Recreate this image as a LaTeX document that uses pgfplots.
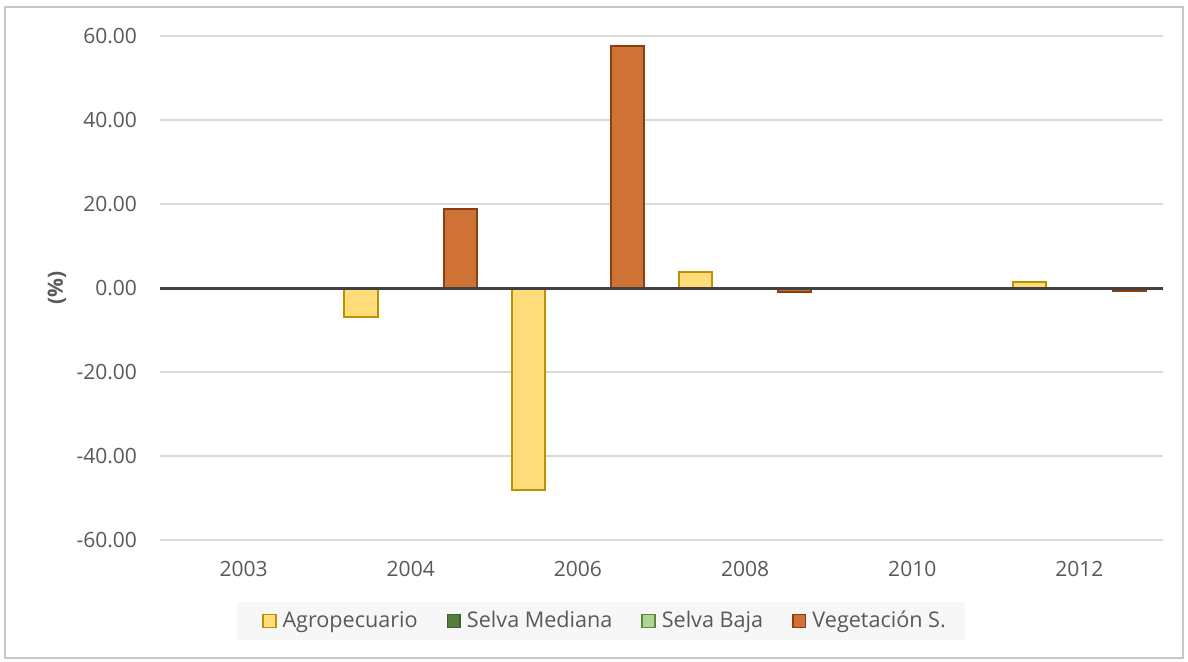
\documentclass[border=0pt]{standalone}
\usepackage{fontspec}
\setmainfont{Open Sans}
\usepackage{pgfplots}
\pgfplotsset{compat=1.18}

\definecolor{agrofill}{HTML}{FFDC7A}
\definecolor{agroedge}{HTML}{BF9000}
\definecolor{smfill}{HTML}{557D3F}
\definecolor{smedge}{HTML}{3D6329}
\definecolor{sbfill}{HTML}{AED597}
\definecolor{sbedge}{HTML}{5B8A3C}
\definecolor{vegfill}{HTML}{CE7236}
\definecolor{vegedge}{HTML}{8C3E10}
\definecolor{gridc}{HTML}{D9D9D9}
\definecolor{zeroc}{HTML}{404040}
\definecolor{textc}{HTML}{595959}
\definecolor{framec}{HTML}{C8C8C8}
\definecolor{legbg}{HTML}{F7F7F7}

\begin{document}
\begin{tikzpicture}
% page area and chart frame
\path[fill=white] (0pt,0pt) rectangle (594pt,330.5pt);
\draw[color=framec, line width=0.75pt] (2.5pt,1.5pt) rectangle (591.5pt,327pt);
% legend background
\fill[legbg] (118.5pt,10.5pt) rectangle (482.5pt,29.5pt);
\begin{axis}[
  at={(80pt,60.5pt)}, anchor=south west,
  scale only axis, width=501.5pt, height=252pt,
  ymin=-60, ymax=60, ytick={-60,-40,...,60},
  xmin=-0.5, xmax=5.5, xtick={0,...,5},
  xticklabels={2003,2004,2006,2008,2010,2012},
  ybar=0pt, bar width=16.6pt,
  axis line style={draw=none}, major tick length=0pt,
  ymajorgrids, grid style={color=gridc, line width=0.75pt},
  tick label style={font=\fontsize{10.5}{12}\selectfont, text=textc},
  yticklabel style={xshift=-8pt,
    /pgf/number format/fixed, /pgf/number format/fixed zerofill,
    /pgf/number format/precision=2, /pgf/number format/assume math mode=true},
  xticklabel style={yshift=-7pt},
  ylabel={\textbf{(\%)}},
  ylabel style={at={(axis description cs:-0.1027,0.5)}, anchor=center, font=\fontsize{10.5}{12}\selectfont, text=textc},
  legend columns=4,
  legend image code/.code={\draw[#1, line width=0.75pt] (0pt,-3.2pt) rectangle (6.4pt,3.2pt);},
  legend style={at={(axis description cs:0.4447,-0.1607)}, anchor=center,
    draw=none, fill=none, font=\fontsize{10.8}{12}\selectfont, text=textc,
    /tikz/every odd column/.append style={column sep=1pt},
    /tikz/every even column/.append style={column sep=12.5pt}},
]
\addplot[fill=agrofill, draw=agroedge, line width=1pt] coordinates
  {(0,0) (1,-7.0) (2,-48.1) (3,3.8) (4,0) (5,1.4)};
\addplot[fill=smfill, draw=smedge, line width=1pt] coordinates
  {(0,0) (1,0) (2,0) (3,0) (4,0) (5,0)};
\addplot[fill=sbfill, draw=sbedge, line width=1pt] coordinates
  {(0,0) (1,0) (2,0) (3,0) (4,0) (5,-0.1)};
\addplot[fill=vegfill, draw=vegedge, line width=1pt] coordinates
  {(0,0) (1,18.8) (2,57.6) (3,-0.9) (4,0) (5,-0.6)};
\legend{Agropecuario, Selva Mediana, Selva Baja, Vegetación S.}
% zero line across the plot
\draw[color=zeroc, line width=1.5pt] (axis cs:-0.5,0) -- (axis cs:5.5,0);
\end{axis}
\end{tikzpicture}
\end{document}
